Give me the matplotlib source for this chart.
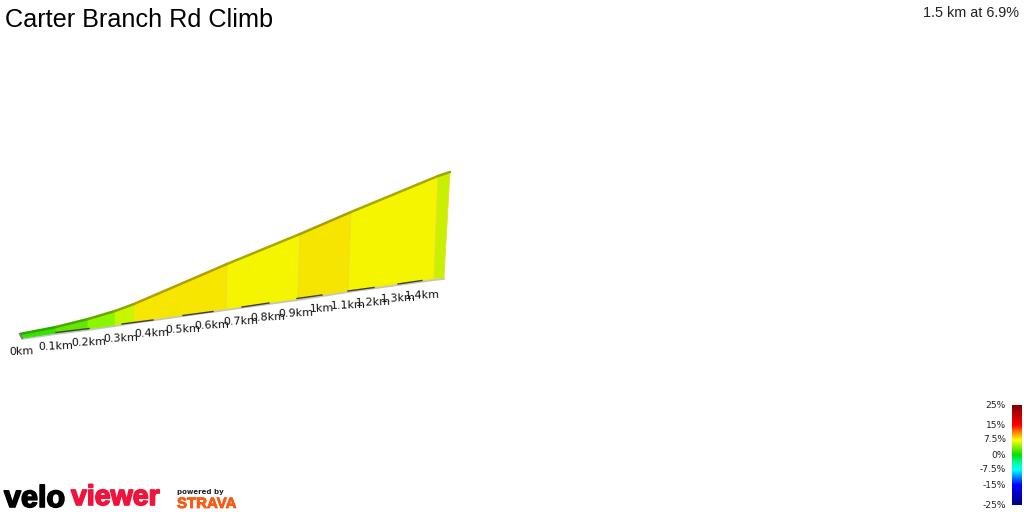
import numpy as np
import matplotlib
matplotlib.use("Agg")
import matplotlib.pyplot as plt
import matplotlib.patheffects as pe
from matplotlib.colors import LinearSegmentedColormap

title = "Carter Branch Rd Climb"
summary = "1.5 km at 6.9%"

# Screen-read profile geometry (pixels of the reference)
top_x = [20, 56, 88, 115, 134, 227, 300, 351, 438, 450]
top_y = [334, 327, 319, 311, 304, 264, 234, 212, 176, 172]
bot_x = [22, 56, 88, 115, 134, 226, 298, 348, 434, 444]
bot_y = [338, 333, 329, 325, 322, 309, 299, 291, 279, 278]
seg_colors = ["#3ce000", "#62e800", "#8cf500", "#c8f500", "#f7e600",
              "#f5f500", "#f5e500", "#f5f500", "#c8f000"]
top_colors = ["#28a800", "#48a800", "#68a800", "#88a800", "#b0a000",
              "#a8a800", "#a8a000", "#a8a800", "#98a800"]

dash_x0 = [56, 122, 183, 242, 297, 348, 398]
dash_x1 = [89, 153, 213, 269, 322, 374, 422]
dash_y0 = [332.5, 324, 315.5, 307, 298.5, 291, 284]
dash_y1 = [328.5, 320, 311.5, 303, 295, 287.5, 280.5]

km_labels = ["0km", "0.1km", "0.2km", "0.3km", "0.4km", "0.5km", "0.6km", "0.7km",
             "0.8km", "0.9km", "1km", "1.1km", "1.2km", "1.3km", "1.4km"]
km_x = [21, 56, 89, 121, 152, 183, 212, 241, 268, 296, 322, 348, 373, 398, 422]
km_y = [352, 346, 342, 338, 333, 329, 325, 321, 317, 313, 309, 305, 302, 298, 295]

cbar_labels = ["25%", "15%", "7.5%", "0%", "-7.5%", "-15%", "-25%"]
cbar_y = [405, 425, 440, 455, 470, 485, 505]
cbar_pos = [0.0, 0.1, 0.2, 0.28, 0.35, 0.5, 0.58, 0.65, 0.8, 1.0]
cbar_stops = ["#800000", "#c00000", "#ff0000", "#ff9000", "#ffff00", "#00e000",
              "#00ffa0", "#00ffff", "#0000ff", "#000080"]

fig = plt.figure(figsize=(10.24, 5.12), dpi=100, facecolor="white")
ax = fig.add_axes([0, 0, 1, 1])
ax.set_xlim(0, 1024)
ax.set_ylim(512, 0)
ax.axis("off")

# Grey base edge
ax.plot(np.array(bot_x), np.array(bot_y) + 0.8, color="#c4c4c4", lw=1.6, zorder=1, solid_capstyle="round")

# Faces
for i in range(len(seg_colors)):
    ax.fill([top_x[i], top_x[i + 1], bot_x[i + 1], bot_x[i]],
            [top_y[i], top_y[i + 1], bot_y[i + 1], bot_y[i]],
            facecolor=seg_colors[i], edgecolor="#e6e030" if i > 3 else seg_colors[i],
            lw=0.6, zorder=2)

# Top edge
for i in range(len(top_colors)):
    ax.plot(top_x[i:i + 2], top_y[i:i + 2], color=top_colors[i], lw=1.8, zorder=3,
            solid_capstyle="round")

# Start cap
ax.plot([20, 22], [334, 338], color="#808080", lw=1.5, zorder=3)

# Distance dashes
for a, b, c, d in zip(dash_x0, dash_x1, dash_y0, dash_y1):
    ax.plot([a, b], [c, d], color="#404040", lw=1.0, zorder=4)

# Distance labels
for s, x, y in zip(km_labels, km_x, km_y):
    ax.text(x, y, s, fontsize=8, family="DejaVu Sans", color="#111111", ha="center",
            va="center", rotation=2, zorder=5)

# Titles
ax.text(5, 20, title, fontsize=18.2, family="Liberation Sans", color="black", va="center", ha="left")
ax.text(1019, 13, summary, fontsize=10.4, family="Liberation Sans", color="#222222", va="center", ha="right")

# Colour bar
cmap = LinearSegmentedColormap.from_list("grade", list(zip(cbar_pos, cbar_stops)))
ax.imshow(np.linspace(0, 1, 256)[:, None], cmap=cmap, extent=(1012, 1022, 505, 405),
          aspect="auto", zorder=2)
ax.set_xlim(0, 1024)
ax.set_ylim(512, 0)
for s, y in zip(cbar_labels, cbar_y):
    ax.text(1006, y, s, fontsize=6.6, family="DejaVu Sans", color="#222222", ha="right", va="center")

# Logos
stroke = [pe.withStroke(linewidth=1.2, foreground="black")]
ax.text(4, 499, "velo", fontsize=22, family="Liberation Sans", weight="bold", color="black",
        ha="left", va="center", path_effects=stroke)
ax.text(71, 498, "viewer", fontsize=20.5, family="Liberation Sans", weight="bold", color="#f0143c",
        ha="left", va="center", path_effects=[pe.withStroke(linewidth=1.2, foreground="#f0143c")])
ax.text(177, 492, "powered by", fontsize=5.0, family="DejaVu Sans", weight="bold", color="#222222",
        ha="left", va="center")
ax.text(177, 504, "STRAVA", fontsize=10.8, family="Liberation Sans", weight="bold", color="#f95a14",
        ha="left", va="center", path_effects=[pe.withStroke(linewidth=0.6, foreground="#f95a14")])

fig.savefig("out.png", dpi=100, facecolor="white")
